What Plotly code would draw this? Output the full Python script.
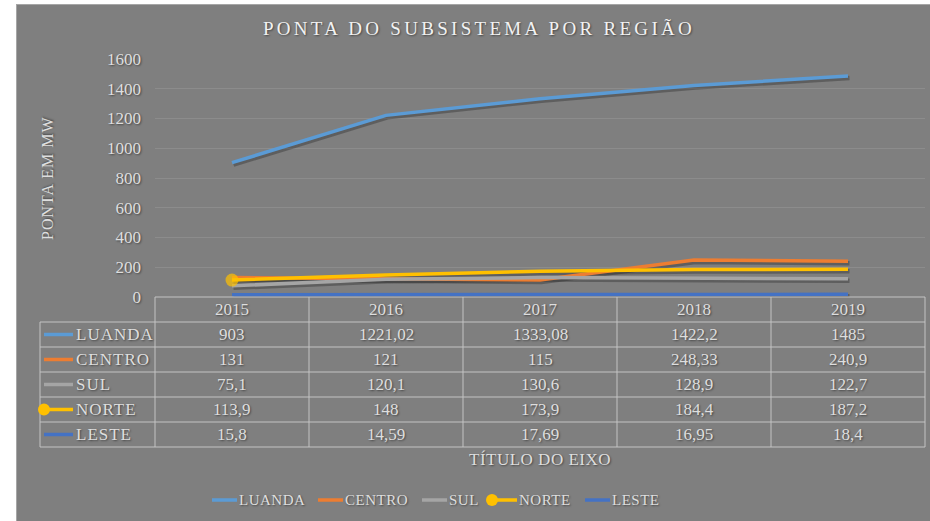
import plotly.graph_objects as go

years = ["2015", "2016", "2017", "2018", "2019"]
regions = ["LUANDA", "CENTRO", "SUL", "NORTE", "LESTE"]
luanda = [903, 1221.02, 1333.08, 1422.2, 1485]
centro = [131, 121, 115, 248.33, 240.9]
sul = [75.1, 120.1, 130.6, 128.9, 122.7]
norte = [113.9, 148, 173.9, 184.4, 187.2]
leste = [15.8, 14.59, 17.69, 16.95, 18.4]
colors = ["#5b9bd5", "#ed7d31", "#a5a5a5", "#ffc000", "#4472c4"]
series = [luanda, centro, sul, norte, leste]

W, H = 930, 521
L, R, T, B = 155, 5, 59, 224
PW, PH = W - L - R, H - T - B
BG = "#7f7f7f"
TXT = "#dedede"
LINE = "#c4c4c4"
FONT = "Liberation Serif"
SHADOW = "1px 1px 2px rgba(0,0,0,0.45)"
YMAX = 1600
n = len(years)


def px(x):
    return (x - L) / PW


def py(y):
    return (H - B - y) / PH


def fmt(v):
    return f"{v:g}".replace(".", ",")


# shadow offset (pixels) turned into axis range shifts
sx, sy = 1.5, 2.0
dx = sx * n / PW
dy = sy * YMAX / PH

fig = go.Figure()
# drop shadows on the base axes (shifted range)
for name, vals in zip(regions, series):
    fig.add_trace(go.Scatter(x=years, y=vals, mode="lines", showlegend=False,
                             hoverinfo="skip", xaxis="x", yaxis="y",
                             line=dict(color="rgba(35,35,35,0.35)", width=4.5)))
# series lines on the overlay axes
for name, vals, col in zip(regions, series, colors):
    if name == "NORTE":
        fig.add_trace(go.Scatter(x=years, y=vals, name=name, mode="lines+markers",
                                 xaxis="x2", yaxis="y2",
                                 line=dict(color=col, width=3.5),
                                 marker=dict(size=[13, 0, 0, 0, 0], color=col,
                                             line=dict(width=0))))
    else:
        fig.add_trace(go.Scatter(x=years, y=vals, name=name, mode="lines",
                                 xaxis="x2", yaxis="y2",
                                 line=dict(color=col, width=3.5)))

shapes = []
ann = []

# white frame left and top of the chart area
shapes.append(dict(type="rect", xref="paper", yref="paper", x0=px(-2), x1=px(16),
                   y0=py(H + 2), y1=py(-2), fillcolor="white", line_width=0, layer="above"))
shapes.append(dict(type="rect", xref="paper", yref="paper", x0=px(-2), x1=px(W + 2),
                   y0=py(4), y1=py(-2), fillcolor="white", line_width=0, layer="above"))
shapes.append(dict(type="line", xref="paper", yref="paper", x0=px(16.5), x1=px(16.5),
                   y0=py(H + 2), y1=py(4), line=dict(color="#a6a6a6", width=1), layer="above"))
shapes.append(dict(type="line", xref="paper", yref="paper", x0=px(16), x1=px(W + 2),
                   y0=py(4.5), y1=py(4.5), line=dict(color="#a6a6a6", width=1), layer="above"))

# data table under the plot
row_h = 25
top = H - B
left_x = 40
nrows = len(regions) + 1
shapes.append(dict(type="line", xref="paper", yref="paper", x0=0, x1=1,
                   y0=py(top), y1=py(top), line=dict(color=LINE, width=1)))
for r in range(1, nrows + 1):
    yy = top + r * row_h
    shapes.append(dict(type="line", xref="paper", yref="paper", x0=px(left_x), x1=1,
                       y0=py(yy), y1=py(yy), line=dict(color=LINE, width=1)))
for c in range(n + 1):
    shapes.append(dict(type="line", xref="paper", yref="paper", x0=c / n, x1=c / n,
                       y0=py(top), y1=py(top + nrows * row_h),
                       line=dict(color=LINE, width=1)))
shapes.append(dict(type="line", xref="paper", yref="paper", x0=px(left_x), x1=px(left_x),
                   y0=py(top + row_h), y1=py(top + nrows * row_h),
                   line=dict(color=LINE, width=1)))

cell_font = dict(family=FONT, size=17, color=TXT, shadow=SHADOW)
for i, yr in enumerate(years):
    ann.append(dict(x=i, xref="x2", y=py(top + row_h / 2), yref="paper", text=yr,
                    showarrow=False, font=cell_font, yanchor="middle", xanchor="center"))
for r, (name, vals, col) in enumerate(zip(regions, series, colors)):
    yc = top + row_h * (r + 1.5)
    for i, v in enumerate(vals):
        ann.append(dict(x=i, xref="x2", y=py(yc), yref="paper", text=fmt(v),
                        showarrow=False, font=cell_font, yanchor="middle", xanchor="center"))
    ann.append(dict(x=px(74), xref="paper", y=py(yc), yref="paper",
                    text=f'<span style="letter-spacing:1px">{name}</span>',
                    showarrow=False, font=cell_font, xanchor="left", yanchor="middle"))
    shapes.append(dict(type="line", xref="paper", yref="paper", x0=px(44), x1=px(73),
                       y0=py(yc), y1=py(yc), line=dict(color=col, width=3.5)))
    if name == "NORTE":
        shapes.append(dict(type="circle", xref="paper", yref="paper", x0=px(38), x1=px(50),
                           y0=py(yc - 6), y1=py(yc + 6), fillcolor=col, line_width=0))

# legend under the table
leg_key_x = [212, 318, 422, 492, 585]
leg_y = 500
leg_font = dict(family=FONT, size=15, color=TXT, shadow=SHADOW)
for name, col, kx in zip(regions, colors, leg_key_x):
    shapes.append(dict(type="line", xref="paper", yref="paper", x0=px(kx), x1=px(kx + 25),
                       y0=py(leg_y), y1=py(leg_y), line=dict(color=col, width=3.5)))
    if name == "NORTE":
        shapes.append(dict(type="circle", xref="paper", yref="paper", x0=px(kx - 6),
                           x1=px(kx + 6), y0=py(leg_y + 6), y1=py(leg_y - 6),
                           fillcolor=col, line_width=0))
    ann.append(dict(x=px(kx + 25), xref="paper", y=py(leg_y), yref="paper",
                    text=f'<span style="letter-spacing:0.5px">{name}</span>',
                    showarrow=False, font=leg_font, xanchor="left", yanchor="middle"))

# axis titles
ann.append(dict(x=px(47), xref="paper", y=0.5, yref="paper", textangle=-90,
                xanchor="center", yanchor="middle",
                text='<span style="letter-spacing:1px">PONTA EM MW</span>', showarrow=False,
                font=dict(family=FONT, size=16, color=TXT, shadow=SHADOW)))
ann.append(dict(x=0.5, xref="paper", y=py(459), yref="paper",
                text='<span style="letter-spacing:0.5px">TÍTULO DO EIXO</span>',
                showarrow=False, yanchor="middle", xanchor="center",
                font=dict(family=FONT, size=17, color=TXT, shadow=SHADOW)))

fig.update_layout(
    width=W, height=H,
    margin=dict(l=L, r=R, t=T, b=B, autoexpand=False),
    paper_bgcolor=BG, plot_bgcolor=BG,
    showlegend=False,
    title=dict(text='<span style="letter-spacing:3.3px">PONTA DO SUBSISTEMA POR REGIÃO</span>',
               xref="paper", x=px(479), xanchor="center",
               yref="container", y=1 - 28 / H, yanchor="middle",
               font=dict(family=FONT, size=19, color="#f2f2f2", shadow=SHADOW)),
    xaxis=dict(type="category", categoryarray=years, range=[-0.5 - dx, n - 0.5 - dx],
               visible=False),
    yaxis=dict(range=[dy, YMAX + dy], visible=False, showgrid=False, zeroline=False),
    xaxis2=dict(type="category", categoryarray=years, range=[-0.5, n - 0.5],
                overlaying="x", visible=False),
    yaxis2=dict(range=[0, YMAX], dtick=200, overlaying="y", side="left",
                showgrid=True, gridcolor="#8c8c8c", gridwidth=1, zeroline=False,
                showline=False, ticklabelstandoff=13,
                tickfont=dict(family=FONT, size=17, color=TXT, shadow=SHADOW)),
    shapes=shapes, annotations=ann,
)

fig.write_html("out.html", config={"displayModeBar": False},
               post_script="document.body.style.margin='0px';"
                           "document.body.style.overflow='hidden';"
                           "document.documentElement.style.background='#7f7f7f';")
